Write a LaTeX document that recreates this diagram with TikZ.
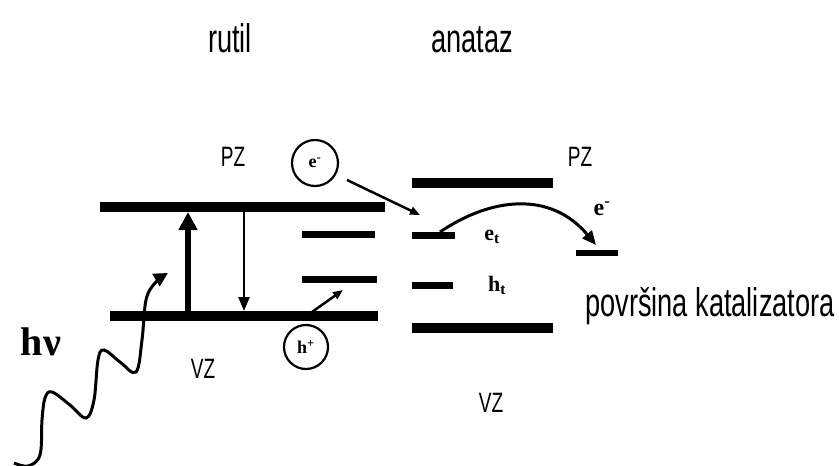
\documentclass[tikz,border=0pt]{standalone}
\usepackage{fontspec}
\setmainfont{Liberation Sans}
\newfontfamily\cond{Liberation Sans}[FakeStretch=0.68]
\newfontfamily\serifb{Liberation Serif}
\usetikzlibrary{arrows.meta}
\tikzset{
  band/.style={line width=10pt},
  trap/.style={line width=7pt},
  lbl/.style={font=\cond\fontsize{28}{30}\selectfont, inner sep=0pt, anchor=base},
  big/.style={font=\cond\fontsize{40}{44}\selectfont, inner sep=0pt, anchor=base},
  bs/.style={font=\serifb\bfseries\fontsize{22}{24}\selectfont, inner sep=0pt},
  arr/.style={-{Triangle[length=10pt,width=8pt]}},
  carrier/.style={circle, draw, line width=2.2pt, minimum size=46pt, inner sep=0pt, font=\serifb\bfseries\fontsize{18}{20}\selectfont}
}
\begin{document}
\begin{tikzpicture}[x=1pt,y=-1pt]
\useasboundingbox (0,0) rectangle (839,466);
% titles
\node[big] (rutil) at (230,52) {rutil};
\node[big] (anataz) at (472,52) {anataz};
\node[lbl] (pzl) at (233,166) {PZ};
\node[lbl] (pzr) at (580,166) {PZ};
\node[lbl] (vzl) at (203,378) {VZ};
\node[lbl] (vzr) at (491,412) {VZ};
\node[big, anchor=base west] (surf) at (585,316) {površina katalizatora};
\node[font=\serifb\bfseries\fontsize{40}{44}\selectfont, inner sep=0pt, anchor=base] (hv) at (41,355) {hν};
% rutile bands
\coordinate (cbl) at (100,207); \coordinate (cbr) at (385,207);
\coordinate (vbl) at (110,316); \coordinate (vbr) at (378,316);
\draw[band] (cbl) -- (cbr);
\draw[band] (vbl) -- (vbr);
\coordinate (t1l) at (302,234); \coordinate (t1r) at (375,234);
\coordinate (t2l) at (302,279); \coordinate (t2r) at (377,279);
\draw[trap] (t1l) -- (t1r);
\draw[trap] (t2l) -- (t2r);
% anatase bands
\coordinate (acbl) at (412,183); \coordinate (acbr) at (553,183);
\coordinate (avbl) at (412,328); \coordinate (avbr) at (553,328);
\draw[band] (acbl) -- (acbr);
\draw[band] (avbl) -- (avbr);
\coordinate (etl) at (412,235); \coordinate (etr) at (455,235);
\coordinate (htl) at (412,285); \coordinate (htr) at (453,285);
\draw[trap] (etl) -- (etr);
\draw[trap] (htl) -- (htr);
\coordinate (sfl) at (576,253); \coordinate (sfr) at (618,253);
\draw[line width=6pt] (sfl) -- (sfr);
% labels
\node[bs] (et) at (492,237) {e\textsubscript{t}};
\node[bs] (ht) at (497,285) {h\textsubscript{t}};
\node[bs, font=\serifb\bfseries\fontsize{24}{26}\selectfont] (em) at (602,209) {e\textsuperscript{-}};
% carriers
\node[carrier] (ec) at (315,163) {e\textsuperscript{-}};
\node[carrier, minimum size=44pt] (hc) at (306,347) {h\textsuperscript{+}};
% excitation / recombination
\coordinate (upa) at (188,316); \coordinate (upb) at (188,212);
\draw[line width=6pt, -{Triangle[length=18pt,width=18pt]}] (upa) -- (upb);
\coordinate (dna) at (244,212); \coordinate (dnb) at (244,311);
\draw[line width=2.5pt, -{Triangle[length=14pt,width=11pt]}] (dna) -- (dnb);
% transfers
\coordinate (ea) at (347,180); \coordinate (eb) at (420,215);
\draw[line width=2.5pt, arr] (ea) -- (eb);
\coordinate (ha) at (312,312); \coordinate (hb) at (343,290);
\draw[line width=2.5pt, arr] (ha) -- (hb);
\coordinate (ca) at (440,232); \coordinate (cb) at (596,245);
\draw[line width=3pt, -{Triangle[length=14pt,width=12pt]}] (ca) .. controls (490,198) and (550,190) .. (cb);
% photon
\coordinate (wa) at (14,463); \coordinate (wb) at (168,273);
\draw[line width=3pt, -{Triangle[length=14pt,width=14pt]}] plot[smooth, tension=0.6] coordinates {(wa) (28,466) (40,455) (42,420) (45,398) (52,392) (70,405) (86,418) (94,400) (98,360) (104,350) (120,362) (136,372) (142,340) (146,300) (155,283) (wb)};
\end{tikzpicture}
\end{document}
